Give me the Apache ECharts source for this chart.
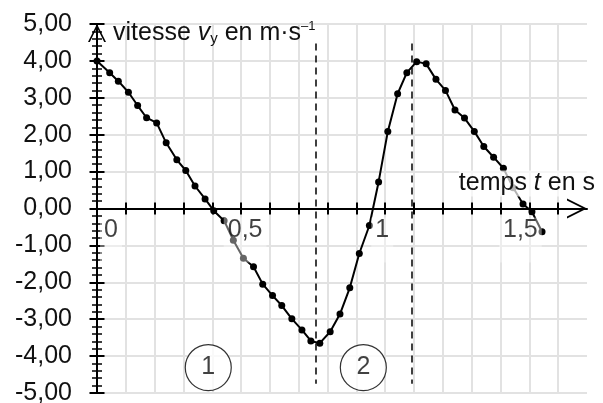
<!DOCTYPE html>
<html>
<head>
<meta charset="utf-8">
<script src="https://cdn.jsdelivr.net/npm/echarts@6/dist/echarts.min.js"></script>
<style>
  html, body { margin: 0; padding: 0; background: #fff; }
  #chart { width: 603px; height: 403px; }
</style>
</head>
<body>
<div id="chart"></div>
<script>
// temps t (s) et vitesse vy (m/s), relevés point par point
var temps = [0.000, 0.044, 0.074, 0.109, 0.141, 0.172, 0.207, 0.240, 0.277, 0.308,
  0.340, 0.375, 0.405, 0.441, 0.473, 0.508, 0.543, 0.575, 0.609, 0.641,
  0.676, 0.711, 0.742, 0.773, 0.809, 0.843, 0.877, 0.910, 0.945, 0.977,
  1.009, 1.043, 1.075, 1.109, 1.142, 1.176, 1.209, 1.242, 1.275, 1.309,
  1.342, 1.376, 1.410, 1.444, 1.478, 1.509, 1.544];
var vitesse = [4.00, 3.68, 3.45, 3.15, 2.79, 2.46, 2.32, 1.78, 1.32, 1.03,
  0.61, 0.26, -0.06, -0.33, -0.86, -1.35, -1.58, -2.05, -2.36, -2.63,
  -2.99, -3.29, -3.59, -3.65, -3.34, -2.86, -2.15, -1.22, -0.46, 0.72,
  2.09, 3.11, 3.68, 3.98, 3.92, 3.50, 3.20, 2.67, 2.45, 2.09,
  1.68, 1.39, 1.09, 0.56, 0.12, -0.09, -0.63];

// graduations de l'axe des temps
var xTickValues = [0.1, 0.2, 0.3, 0.4, 0.5, 0.6, 0.7, 0.8, 0.9, 1.0, 1.1, 1.2, 1.3, 1.4, 1.5, 1.6];
var xLabelValues = [0, 0.5, 1, 1.5];
var xLabelTexts = ['0', '0,5', '1', '1,5'];

// lignes pointillées (séparation des phases) et numéros de phase
var dashT = [0.76, 1.092];
var dashTop = 4.47;
var dashBottom = -4.75;
var phaseNames = ['1', '2'];
var phaseT = [0.386, 0.924];
var phaseV = [-4.31, -4.31];

var FONT = '"Liberation Sans", Arial, sans-serif';
var black = '#111';
var gridColor = '#e2e2e2';
var arrow = 'path://M0,20 L10,0 L20,20 L18,20 L10,4 L2,20 Z';
var labelShift = [14, 4, -3, -9]; // décalage horizontal des étiquettes de temps

var chartDom = document.getElementById('chart');
var myChart = echarts.init(chartDom);

var points = temps.map(function (t, i) { return [t, vitesse[i]]; });
var dashLines = dashT.map(function (t) {
  return [{ coord: [t, dashTop] }, { coord: [t, dashBottom] }];
});
var phases = phaseNames.map(function (n, i) {
  return { name: n, value: [phaseT[i], phaseV[i]] };
});
var xLabels = xLabelValues.map(function (t, i) {
  return { name: xLabelTexts[i], value: [t, 0], label: { offset: [labelShift[i], 0] } };
});

var tickStyle = { color: '#000', width: 2 };

var option = {
  animation: false,
  backgroundColor: '#fff',
  grid: { left: 97, right: 16, top: 24, bottom: 10, containLabel: false, outerBoundsMode: 'none' },
  xAxis: [
    {
      type: 'value', min: 0, max: 1.7, interval: 0.1, position: 'bottom',
      axisLine: {
        show: true, onZero: true, onZeroAxisIndex: 0,
        lineStyle: { color: '#000', width: 2 },
        symbol: ['none', arrow], symbolSize: [20, 20], symbolOffset: [0, -10]
      },
      axisTick: { show: true, customValues: xTickValues, length: 6, lineStyle: tickStyle },
      axisLabel: { show: false },
      splitLine: { show: true, lineStyle: { color: gridColor, width: 2 } }
    },
    {
      type: 'value', min: 0, max: 1.7, interval: 0.1, position: 'top',
      axisLine: { show: false, onZero: true, onZeroAxisIndex: 0 },
      axisTick: { show: true, customValues: xTickValues, length: 6, lineStyle: tickStyle },
      axisLabel: { show: false },
      splitLine: { show: false }
    }
  ],
  yAxis: [
    {
      type: 'value', min: -5, max: 5, interval: 1, position: 'left',
      axisLine: {
        show: true, onZero: false,
        lineStyle: { color: '#000', width: 2 },
        symbol: ['none', arrow], symbolSize: [20, 18], symbolOffset: [0, -9]
      },
      axisTick: { show: true, length: 7.5, lineStyle: tickStyle },
      minorTick: { show: true, splitNumber: 5, length: 5, lineStyle: { color: '#000', width: 1.5 } },
      axisLabel: {
        margin: 25, fontSize: 25, fontFamily: FONT, color: black,
        formatter: function (v) { return v.toFixed(2).replace('.', ','); }
      },
      splitLine: { show: true, lineStyle: { color: gridColor, width: 2 } }
    },
    {
      type: 'value', min: -5, max: 5, interval: 1, position: 'left',
      axisLine: { show: false, onZero: false },
      axisTick: { show: true, inside: true, length: 7.5, lineStyle: tickStyle },
      minorTick: { show: true, splitNumber: 5, length: 5, lineStyle: { color: '#000', width: 1.5 } },
      axisLabel: { show: false },
      splitLine: { show: false }
    }
  ],
  series: [
    {
      name: 'vy',
      type: 'line',
      data: points,
      symbol: 'circle',
      symbolSize: 7,
      lineStyle: { color: '#000', width: 2 },
      itemStyle: { color: '#000' },
      markLine: {
        silent: true,
        symbol: ['none', 'none'],
        label: { show: false },
        lineStyle: { color: '#000', type: [7, 5], width: 1.5 },
        data: dashLines
      }
    },
    {
      name: 'phases',
      type: 'scatter',
      data: phases,
      symbol: 'circle',
      symbolSize: 46,
      z: 4,
      itemStyle: { color: '#fff', borderColor: '#000', borderWidth: 1.2 },
      label: {
        show: true, position: 'inside', formatter: '{b}',
        fontSize: 25, fontFamily: FONT, color: black
      }
    },
    {
      name: 'graduations',
      type: 'scatter',
      data: xLabels,
      symbol: 'circle',
      symbolSize: 0,
      silent: true,
      z: 6,
      label: {
        show: true, position: 'bottom', distance: 9, formatter: '{b}',
        fontSize: 25, fontFamily: FONT, color: black,
        backgroundColor: 'rgba(255,255,255,0.5)', padding: [0, 4, 20, 4]
      }
    }
  ]
};

myChart.setOption(option);

// titres des axes, placés par rapport au repère
var origTop = myChart.convertToPixel({ gridIndex: 0 }, [0, 5]);
var xEnd = myChart.convertToPixel({ gridIndex: 0 }, [1.7, 0]);
myChart.setOption({
  graphic: [
    {
      type: 'text', z: 20,
      x: origTop[0] + 16, y: origTop[1] + 9,
      style: {
        text: 'vitesse {i|v}{sub|y} en m·s{sup|–1}',
        font: '25px ' + FONT, fill: black,
        verticalAlign: 'middle', lineHeight: 26,
        rich: {
          i: { font: 'italic 25px ' + FONT, fill: black, lineHeight: 26 },
          sub: { font: '15px ' + FONT, fill: black, lineHeight: 15, verticalAlign: 'bottom' },
          sup: { font: '13px ' + FONT, fill: black, lineHeight: 13, verticalAlign: 'top' }
        }
      }
    },
    {
      type: 'text', z: 20,
      x: xEnd[0] + 8, y: xEnd[1] - 25,
      style: {
        text: 'temps {i|t} en s',
        font: '25px ' + FONT, fill: black,
        align: 'right', verticalAlign: 'middle', lineHeight: 26,
        backgroundColor: 'rgba(255,255,255,0.7)',
        rich: {
          i: { font: 'italic 25px ' + FONT, fill: black, lineHeight: 26 }
        }
      }
    }
  ]
});
</script>
</body>
</html>
